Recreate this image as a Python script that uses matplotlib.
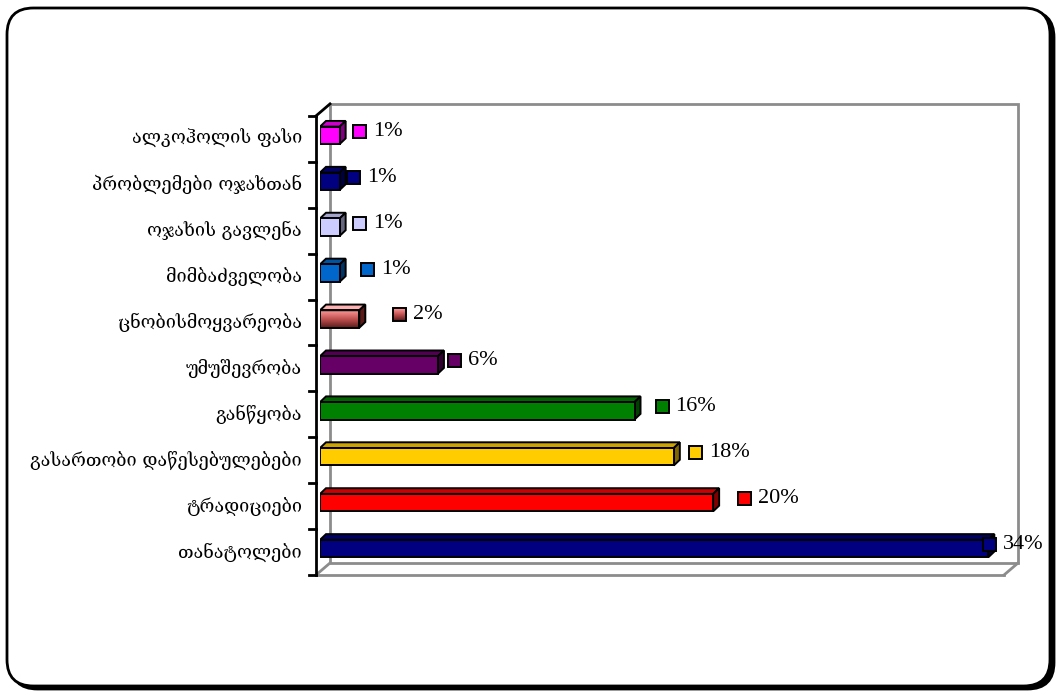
import matplotlib
matplotlib.use("Agg")
import matplotlib.pyplot as plt
import numpy as np
from matplotlib.patches import Rectangle, Polygon, FancyBboxPatch
from matplotlib.colors import LinearSegmentedColormap, to_rgb

# ---------------- data (bottom to top) ----------------
categories = [
    "თანატოლები",
    "ტრადიციები",
    "გასართობი დაწესებულებები",
    "განწყობა",
    "უმუშევრობა",
    "ცნობისმოყვარეობა",
    "მიმბაძველობა",
    "ოჯახის გავლენა",
    "პრობლემები ოჯახთან",
    "ალკოჰოლის ფასი",
]
values = [34, 20, 18, 16, 6, 2, 1, 1, 1, 1]
value_labels = ["34%", "20%", "18%", "16%", "6%", "2%", "1%", "1%", "1%", "1%"]

# ---------------- styles ----------------
colors = ["#000080", "#FF0000", "#FFCC00", "#008000", "#660066",
          "#FF8080", "#0066CC", "#CCCCFF", "#000080", "#FF00FF"]
gradient_bar = 5  # index of the bar with a gradient fill
label_dx_px = [-5, 25, 15, 21, 10, 34, 21, 13, 7, 13]

W, H = 1057, 693
fig = plt.figure(figsize=(W / 100, H / 100), dpi=100)

# rounded frame with shadow
shadow = FancyBboxPatch((11 / W, 4 / H), (1043 / W), (678 / H),
                        boxstyle="round,pad=0,rounding_size=0.025",
                        transform=fig.transFigure, facecolor="black",
                        edgecolor="black", lw=2, zorder=-2,
                        mutation_aspect=W / H)
frame = FancyBboxPatch((7 / W, 7 / H), (1043 / W), (678 / H),
                       boxstyle="round,pad=0,rounding_size=0.025",
                       transform=fig.transFigure, facecolor="white",
                       edgecolor="black", lw=2, zorder=-1,
                       mutation_aspect=W / H)
fig.patches.extend([shadow, frame])

xmax = 35
ax_l, ax_r, ax_t, ax_b = 320, 1008, 112.4, 571.5
ax = fig.add_axes([ax_l / W, 1 - ax_b / H, (ax_r - ax_l) / W, (ax_b - ax_t) / H])
ax.set_xlim(0, xmax)
ax.set_ylim(-0.5, len(categories) - 0.5)
ax.axis("off")
ax.patch.set_visible(False)

ux = xmax / (ax_r - ax_l)        # data units per pixel in x
uy = len(categories) / (ax_b - ax_t)  # data units per pixel in y

ntop = len(categories) - 0.5
nbot = -0.5
gray = "#8C8C8C"
# back wall offsets (px) and front plane offsets
bx, by = 10 * ux, 8.5 * uy
fx, fy = -4 * ux, -3.5 * uy

# back wall
ax.add_patch(Rectangle((bx, nbot + by), xmax, ntop - nbot, fill=False,
                       edgecolor=gray, lw=2, zorder=1, clip_on=False))
# floor
ax.plot([fx, xmax + fx], [nbot + fy, nbot + fy], color=gray, lw=2, zorder=1, clip_on=False)
ax.plot([fx, bx], [nbot + fy, nbot + by], color=gray, lw=2, zorder=1, clip_on=False)
ax.plot([xmax + fx, xmax + bx], [nbot + fy, nbot + by], color=gray, lw=2, zorder=1, clip_on=False)

# front axis
ax.plot([fx, fx], [nbot + fy, ntop + fy], color="black", lw=2, zorder=5, clip_on=False)
ax.plot([fx, bx], [ntop + fy, ntop + by], color="black", lw=2, zorder=5, clip_on=False)
for k in range(len(categories) + 1):
    yk = nbot + k + fy
    ax.plot([fx - 7 * ux, fx], [yk, yk], color="black", lw=2, zorder=5, clip_on=False)

# bars
h = 0.38
dx, dy = 6 * ux, 5.7 * uy


def shade(c, f):
    r, g, b = to_rgb(c)
    return (r * f, g * f, b * f)


for i, (v, c) in enumerate(zip(values, colors)):
    y0, y1 = i - h / 2, i + h / 2
    if i == gradient_bar:
        cmap = LinearSegmentedColormap.from_list("g", ["#5A1A1A", "#C05050", "#FF9A9A"])
        grad = np.linspace(0, 1, 50).reshape(-1, 1)
        ax.imshow(grad, extent=[0, v, y0, y1], origin="lower", cmap=cmap,
                  aspect="auto", zorder=3, interpolation="bilinear")
        front = Rectangle((0, y0), v, h, facecolor="none", edgecolor="black",
                          lw=1.4, zorder=3.2)
        top_c, side_c = "#FFB0B0", "#5A1A1A"
    else:
        front = Rectangle((0, y0), v, h, facecolor=c, edgecolor="black",
                          lw=1.4, zorder=3.2)
        top_c, side_c = shade(c, 0.8), shade(c, 0.5)
    ax.add_patch(front)
    top = Polygon([(0, y1), (v, y1), (v + dx, y1 + dy), (dx, y1 + dy)],
                  closed=True, facecolor=top_c, edgecolor="black", lw=1.4, zorder=3.1)
    side = Polygon([(v, y0), (v, y1), (v + dx, y1 + dy), (v + dx, y0 + dy)],
                   closed=True, facecolor=side_c, edgecolor="black", lw=1.4, zorder=3.1)
    ax.add_patch(top)
    ax.add_patch(side)

    # data label: legend key + text
    sq = 13
    sx = v + label_dx_px[i] * ux
    sy = i + 4 * uy
    if i == gradient_bar:
        ax.imshow(np.linspace(0, 1, 20).reshape(-1, 1),
                  extent=[sx, sx + sq * ux, sy - sq * uy / 2, sy + sq * uy / 2],
                  origin="lower", cmap=cmap, aspect="auto", zorder=6)
        ax.add_patch(Rectangle((sx, sy - sq * uy / 2), sq * ux, sq * uy,
                               facecolor="none", edgecolor="black", lw=1.4,
                               zorder=6.1, clip_on=False))
    else:
        ax.add_patch(Rectangle((sx, sy - sq * uy / 2), sq * ux, sq * uy,
                               facecolor=c, edgecolor="black", lw=1.4,
                               zorder=6, clip_on=False))
    ax.text(sx + (sq + 7) * ux, sy, value_labels[i], ha="left", va="center",
            fontsize=16, family="Liberation Serif", zorder=7)

    # category label
    ax.text(fx - 14 * ux, i + fy, categories[i], ha="right", va="center",
            fontsize=13, family=["DejaVu Serif", "DejaVu Sans"], zorder=7)

ax.set_xlim(0, xmax)
ax.set_ylim(-0.5, len(categories) - 0.5)

fig.savefig("out.png", dpi=100)
